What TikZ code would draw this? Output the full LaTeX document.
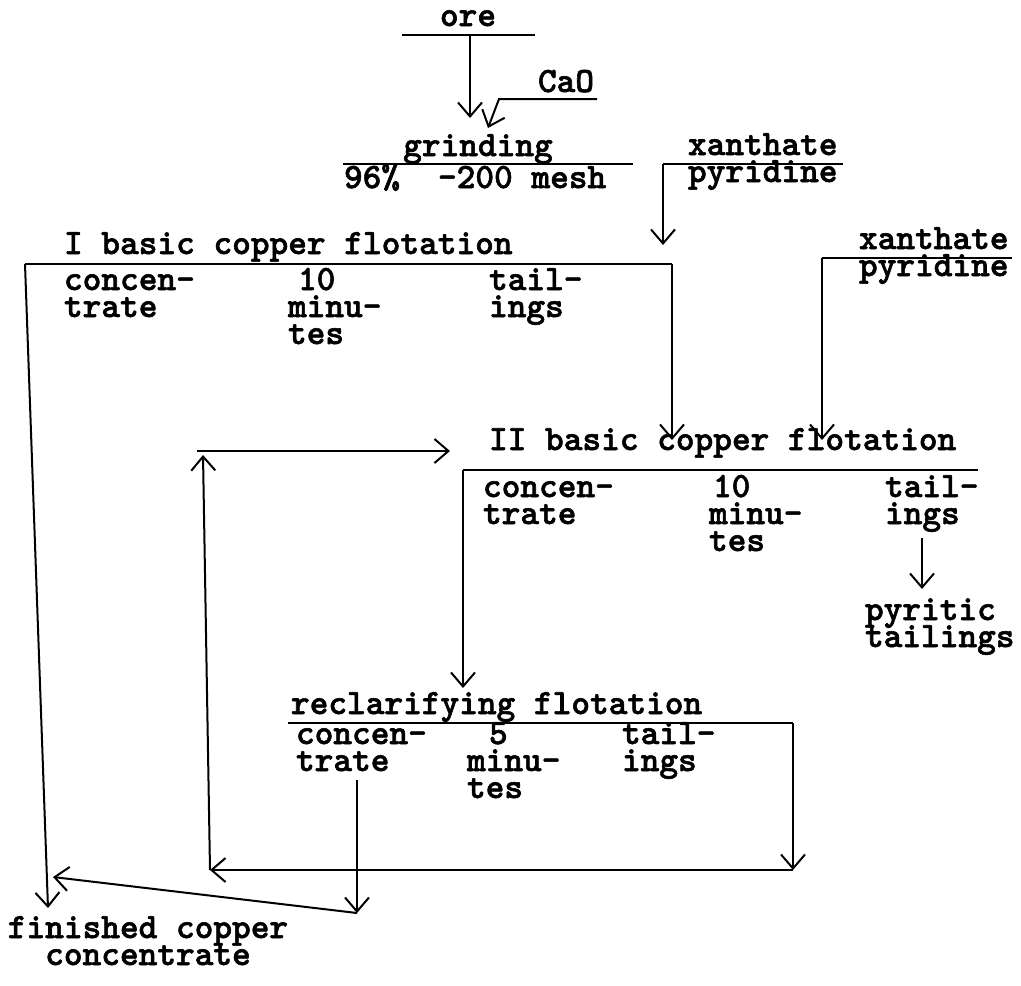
\documentclass[tikz,border=0pt]{standalone}
\usepackage{fontspec}
\usetikzlibrary{arrows.meta}
\newfontfamily\typedfont[FakeBold=1.6]{lmmonolt10-bold.otf}
\newcommand\tightlines{\lineskiplimit=-20pt\relax}
\tikzset{
  typed/.style={font=\typedfont\bfseries\fontsize{17.8}{13.5}\selectfont\tightlines,
    inner sep=0pt, anchor=base west, align=left},
  flow/.style={-{Straight Barb[length=7pt,width=12pt]}},
}
\begin{document}
\begin{tikzpicture}[x=0.5pt,y=-0.5pt,line width=1pt]
  \useasboundingbox (0,0) rectangle (1021,985);
  % grinding (two-line nodes sit on their last line)
  \node[typed,anchor=base] (ore) at (468,26) {ore};
  \node[typed,anchor=base] (cao) at (566,92) {CaO};
  \node[typed,anchor=base] (grind) at (478,156) {grinding};
  \node[typed] (fine) at (343,188) {96\%};
  \node[typed] (mesh) at (437,188) {-200 mesh};
  \node[typed] (xan1) at (687,182) {xanthate\\pyridine};
  \coordinate (oreL) at (402,35);  \coordinate (oreR) at (535,35);
  \coordinate (oreS) at (470,35);  \coordinate (oreE) at (470,118);
  \coordinate (caoR) at (597,99);  \coordinate (caoL) at (499,99);
  \coordinate (caoE) at (488,128);
  \coordinate (grL) at (343,164);  \coordinate (grR) at (633,164);
  \coordinate (xa1L) at (663,164); \coordinate (xa1R) at (843,164);
  \coordinate (xa1E) at (663,245);
  \draw (oreL) -- (oreR);
  \draw[flow] (oreS) -- (oreE);
  \draw[flow] (caoR) -- (caoL) -- (caoE);
  \draw (grL) -- (grR);
  \draw (xa1R) -- (xa1L);
  \draw[flow] (xa1L) -- (xa1E);

  % I basic copper flotation
  \node[typed] (fl1) at (63,254) {I basic copper flotation};
  \node[typed] (con1) at (63,317) {concen-\\trate};
  \node[typed] (tes1) at (287,344) {\hspace{5pt}10\\minu-\\tes};
  \node[typed] (tai1) at (488,317) {tail-\\ings};
  \node[typed] (xan2) at (858,276) {xanthate\\pyridine};
  \coordinate (fl1L) at (25,264);  \coordinate (fl1R) at (672,264);
  \coordinate (fl1E) at (672,440);
  \coordinate (xa2L) at (822,258); \coordinate (xa2R) at (1012,258);
  \coordinate (xa2E) at (822,440);
  \draw (fl1L) -- (fl1R);
  \draw[flow] (fl1R) -- (fl1E);
  \draw (xa2R) -- (xa2L);
  \draw[flow] (xa2L) -- (xa2E);

  % II basic copper flotation
  \node[typed] (fl2) at (488,450) {II basic copper flotation};
  \node[typed] (con2) at (482,524) {concen-\\trate};
  \node[typed] (tes2) at (708,551) {\hspace{2pt}10\\minu-\\tes};
  \node[typed] (tai2) at (884,524) {tail-\\ings};
  \node[typed] (pyr) at (864,647) {pyritic\\tailings};
  \coordinate (fl2L) at (463,470); \coordinate (fl2R) at (978,470);
  \coordinate (fl2E) at (463,688);
  \coordinate (tai2S) at (922,538); \coordinate (tai2E) at (922,589);
  \draw (fl2R) -- (fl2L);
  \draw[flow] (fl2L) -- (fl2E);
  \draw[flow] (tai2S) -- (tai2E);

  % reclarifying flotation
  \node[typed] (fl3) at (290,714) {reclarifying flotation};
  \node[typed] (con3) at (295,771) {concen-\\trate};
  \node[typed] (tes3) at (466,798) {\hspace{11pt}5\\minu-\\tes};
  \node[typed] (tai3) at (621,771) {tail-\\ings};
  \coordinate (fl3L) at (288,723); \coordinate (fl3R) at (793,723);
  \coordinate (fl3E) at (793,870);
  \coordinate (back) at (210,870); \coordinate (backT) at (203,455);
  \coordinate (topL) at (197,451); \coordinate (topR) at (450,451);
  \draw (fl3L) -- (fl3R);
  \draw[flow] (fl3R) -- (fl3E);
  \draw[flow] (fl3E) -- (back);
  \draw[flow] (back) -- (backT);
  \draw[flow] (topL) -- (topR);

  % finished concentrate
  \node[typed,align=center,anchor=base] (fin) at (148,965) {finished copper\\concentrate};
  \coordinate (con3S) at (357,780); \coordinate (con3E) at (357,913);
  \coordinate (join) at (53,877);   \coordinate (fl1E2) at (48,908);
  \draw[flow] (con3S) -- (con3E);
  \draw[flow] (con3E) -- (join);
  \draw[flow] (fl1L) -- (fl1E2);
\end{tikzpicture}
\end{document}
